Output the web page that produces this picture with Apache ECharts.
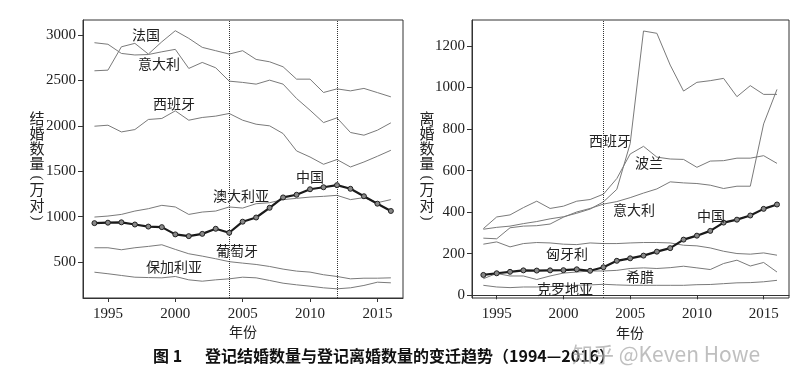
<!DOCTYPE html>
<html><head><meta charset="utf-8">
<script src="https://cdn.jsdelivr.net/npm/echarts@6/dist/echarts.min.js"></script>
<style>html,body{margin:0;padding:0;background:#fff}#c{width:805px;height:381px}</style>
</head><body><div id="c"></div>
<script>
const years = [1994,1995,1996,1997,1998,1999,2000,2001,2002,2003,2004,2005,2006,2007,2008,2009,2010,2011,2012,2013,2014,2015,2016];
const xTicks = [1995,2000,2005,2010,2015];
// marriages (万对)
const marChina    = [929,934,938,914,891,885,805,786,811,867,823,945,991,1098,1212,1241,1302,1324,1347,1307,1225,1143,1063];
const marFrance   = [2606,2613,2870,2908,2790,2925,3047,2963,2864,2827,2790,2827,2731,2705,2650,2514,2514,2367,2407,2385,2412,2366,2319];
const marItaly    = [2915,2898,2797,2780,2785,2815,2842,2632,2698,2639,2492,2478,2459,2503,2459,2301,2172,2036,2088,1927,1897,1952,2033];
const marSpain    = [1996,2007,1933,1959,2070,2081,2165,2062,2092,2107,2136,2062,2018,2000,1915,1724,1657,1577,1629,1547,1602,1665,1731];
const marAustralia= [996,1007,1025,1062,1088,1125,1107,1025,1051,1062,1107,1095,1143,1154,1188,1202,1216,1224,1235,1188,1210,1154,1188];
const marPortugal = [658,658,636,658,673,691,640,592,566,537,505,489,474,452,423,401,390,361,342,316,323,323,327];
const marBulgaria = [389,372,353,334,330,327,342,305,290,305,316,334,327,298,268,250,235,217,206,217,243,279,272];
const marTicks = [500,1000,1500,2000,2500,3000];
const marVLines = [2004,2012];
// divorces (万对)
const divChina    = [98,106,113,120,119,120,121,125,118,135,166,178,191,210,227,268,287,310,350,364,384,416,437];
const divSpain    = [318,327,333,345,355,368,378,395,415,450,510,730,1272,1261,1108,983,1025,1033,1044,956,1009,967,967];
const divPoland   = [321,377,387,422,453,418,429,453,461,487,562,680,717,665,656,654,616,646,648,660,660,672,635];
const divItaly    = [275,272,325,333,335,343,376,401,418,439,451,470,492,512,546,541,538,530,514,525,525,825,991];
const divHungary  = [246,257,233,249,254,252,246,244,252,249,249,252,254,254,252,241,238,228,212,201,198,204,193];
const divGreece   = [80,105,93,93,76,93,107,112,117,117,120,129,132,129,133,140,132,124,153,169,141,158,112];
const divCroatia  = [48,40,37,40,40,42,45,48,50,53,50,48,48,48,48,48,51,52,56,60,61,65,72];
const divTicks = [0,200,400,600,800,1000,1200];
const divVLines = [2003];

const serif = 'Liberation Serif';
const cjk = 'Noto Sans CJK SC';
const pair = arr => years.map((y,i)=>[y,arr[i]]);

function thin(name, arr, idx){
  return {name, type:'line', data:pair(arr), xAxisIndex:idx, yAxisIndex:idx,
    showSymbol:false, lineStyle:{color:'#7a7a7a', width:1}, z:2, silent:true};
}
function bold(name, arr, idx, vlines){
  return {name, type:'line', data:pair(arr), xAxisIndex:idx, yAxisIndex:idx,
    symbol:'circle', symbolSize:5, showSymbol:true,
    itemStyle:{color:'#888', borderColor:'#222', borderWidth:1},
    lineStyle:{color:'#1a1a1a', width:2.2}, z:5, silent:true,
    markLine:{silent:true, symbol:['none','none'], label:{show:false},
      lineStyle:{type:'dotted', color:'#333', width:1},
      data: vlines.map(v=>({xAxis:v}))}};
}
const plain = v => String(Math.round(v));
function xAx(idx){
  return {type:'value', gridIndex:idx, min:1993.15, max:2016.9,
    axisLine:{show:true, lineStyle:{color:'#333'}},
    axisTick:{show:true, length:4, inside:false, customValues:xTicks, lineStyle:{color:'#333'}},
    axisLabel:{customValues:xTicks, formatter:plain, fontFamily:serif, fontSize:15, color:'#222', margin:9},
    splitLine:{show:false}};
}
function yAx(idx, min, max, ticks){
  return {type:'value', gridIndex:idx, min, max,
    axisLine:{show:true, lineStyle:{color:'#333'}},
    axisTick:{show:true, length:5, customValues:ticks, lineStyle:{color:'#333'}},
    axisLabel:{customValues:ticks, formatter:plain, fontFamily:serif, fontSize:15, color:'#222', margin:7},
    splitLine:{show:false}};
}
function lbl(text, cx, cy){
  return {type:'text', x:cx, y:cy, style:{text, fill:'#222', font:'14px "'+cjk+'"', align:'center', verticalAlign:'middle'}, z:10};
}
function vtitle(cx, chars, ys){
  return chars.map((c,i)=>{
    const paren = (c==='(' || c===')');
    return {type:'text', x:cx, y:ys[i], rotation: paren ? -Math.PI/2 : 0,
      style:{text:c, fill:'#222', font:(paren?'15px "Liberation Serif"':'15px "'+cjk+'"'), align:'center', verticalAlign:'middle'}, z:10};
  });
}
const vys = [118,133,148,163,178,189,205,218];

const chart = echarts.init(document.getElementById('c'), null, {renderer:'canvas'});
chart.setOption({
  animation:false,
  backgroundColor:'#fff',
  grid:[
    {left:83, top:20, width:320, height:278, show:true, borderColor:'#333', borderWidth:1, backgroundColor:'transparent'},
    {left:472, top:20, width:317, height:278, show:true, borderColor:'#333', borderWidth:1, backgroundColor:'transparent'}
  ],
  xAxis:[xAx(0), xAx(1)],
  yAxis:[yAx(0,105,3165,marTicks), yAx(1,-13,1325,divTicks)],
  series:[
    thin('法国', marFrance, 0), thin('意大利', marItaly, 0), thin('西班牙', marSpain, 0),
    thin('澳大利亚', marAustralia, 0), thin('葡萄牙', marPortugal, 0), thin('保加利亚', marBulgaria, 0),
    bold('中国', marChina, 0, marVLines),
    thin('西班牙', divSpain, 1), thin('波兰', divPoland, 1), thin('意大利', divItaly, 1),
    thin('匈牙利', divHungary, 1), thin('希腊', divGreece, 1), thin('克罗地亚', divCroatia, 1),
    bold('中国', divChina, 1, divVLines)
  ],
  graphic:[
    lbl('法国',146,35), lbl('意大利',159,64), lbl('西班牙',174,104), lbl('中国',310,177),
    lbl('澳大利亚',241,196), lbl('葡萄牙',237,251), lbl('保加利亚',174,267),
    lbl('西班牙',610,141), lbl('波兰',649,163), lbl('意大利',634,210), lbl('中国',711,216),
    lbl('匈牙利',567,254), lbl('希腊',640,277), lbl('克罗地亚',565,289),
    ...vtitle(37, ['结','婚','数','量','(','万','对',')'], vys),
    ...vtitle(427, ['离','婚','数','量','(','万','对',')'], vys),
    {type:'text', x:243, y:332, style:{text:'年份', fill:'#222', font:'14px "'+cjk+'"', align:'center', verticalAlign:'middle'}},
    {type:'text', x:630, y:333, style:{text:'年份', fill:'#222', font:'14px "'+cjk+'"', align:'center', verticalAlign:'middle'}},
    {type:'text', x:153, y:356, style:{text:'图 1', fill:'#111', font:'bold 16px "'+cjk+'"', align:'left', verticalAlign:'middle'}},
    {type:'text', x:205, y:356, style:{text:'登记结婚数量与登记离婚数量的变迁趋势（1994—2016）', fill:'#111', font:'bold 16px "'+cjk+'"', align:'left', verticalAlign:'middle'}},
    {type:'text', x:572, y:354, style:{text:'知乎 @Keven Howe', fill:'rgba(170,170,170,0.75)', font:'21px "'+cjk+'"', align:'left', verticalAlign:'middle'}, z:20}
  ]
});
</script></body></html>
